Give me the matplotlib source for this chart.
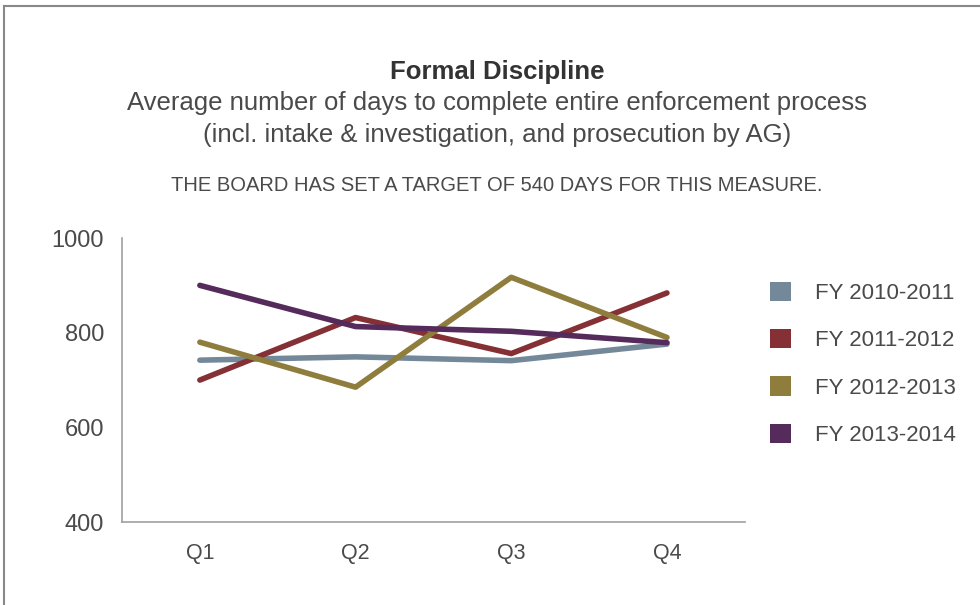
import matplotlib.pyplot as plt
from matplotlib.patches import Patch
from matplotlib.lines import Line2D

plt.rcParams['font.family'] = ['Liberation Sans', 'DejaVu Sans']

# ===== data =====
quarters = ['Q1', 'Q2', 'Q3', 'Q4']
fy_labels = ['FY 2010-2011', 'FY 2011-2012', 'FY 2012-2013', 'FY 2013-2014']
fy2010 = [742, 749, 741, 776]
fy2011 = [700, 832, 756, 884]
fy2012 = [780, 685, 917, 790]
fy2013 = [900, 813, 803, 779]
series = [fy2010, fy2011, fy2012, fy2013]
colors = ['#738899', '#843034', '#8E7D3C', '#552B5B']
text_col = '#4a4a4a'

fig = plt.figure(figsize=(9.8, 6.05), dpi=100)
ax = fig.add_axes([0.1245, 0.137, 0.6355, 0.4696])

x = range(len(quarters))
for vals, c, lab in zip(series, colors, fy_labels):
    ax.plot(x, vals, color=c, lw=4, solid_capstyle='round', label=lab)

ax.set_xlim(-0.5, 3.5)
ax.set_ylim(400, 1000)
ax.set_yticks([400, 600, 800, 1000])
ax.set_xticks(list(x))
ax.set_xticklabels(quarters)
ax.tick_params(axis='y', length=0, pad=13, labelsize=17, labelcolor=text_col)
ax.tick_params(axis='x', length=0, pad=15, labelsize=15.5, labelcolor=text_col)
for s in ['top', 'right']:
    ax.spines[s].set_visible(False)
for s in ['left', 'bottom']:
    ax.spines[s].set_color('#A0A0A0')
    ax.spines[s].set_linewidth(1.2)

# legend with square markers
handles = [Patch(facecolor=c, edgecolor='none') for c in colors]
leg = fig.legend(handles, fy_labels, loc='upper left', bbox_to_anchor=(0.777, 0.549),
                 frameon=False, fontsize=16, handlelength=0.95, handleheight=0.95,
                 handletextpad=1.05, labelspacing=1.13, borderaxespad=0)
for t in leg.get_texts():
    t.set_color(text_col)

# titles
fig.text(0.507, 0.881, 'Formal Discipline', ha='center', va='center',
         fontsize=18.5, fontweight='bold', color='#333333')
fig.text(0.507, 0.830, 'Average number of days to complete entire enforcement process',
         ha='center', va='center', fontsize=18.5, color=text_col)
fig.text(0.507, 0.777, '(incl. intake & investigation, and prosecution by AG)',
         ha='center', va='center', fontsize=18.5, color=text_col)
fig.text(0.507, 0.694, 'THE BOARD HAS SET A TARGET OF 540 DAYS FOR THIS MEASURE.',
         ha='center', va='center', fontsize=14.5, color=text_col)

# outer frame (top and left edges)
fig.add_artist(Line2D([0.004, 1.0], [0.990, 0.990], transform=fig.transFigure,
                      color='#888888', lw=1.5))
fig.add_artist(Line2D([0.004, 0.004], [0.0, 0.990], transform=fig.transFigure,
                      color='#888888', lw=1.5))

fig.savefig('out.png', dpi=100)
